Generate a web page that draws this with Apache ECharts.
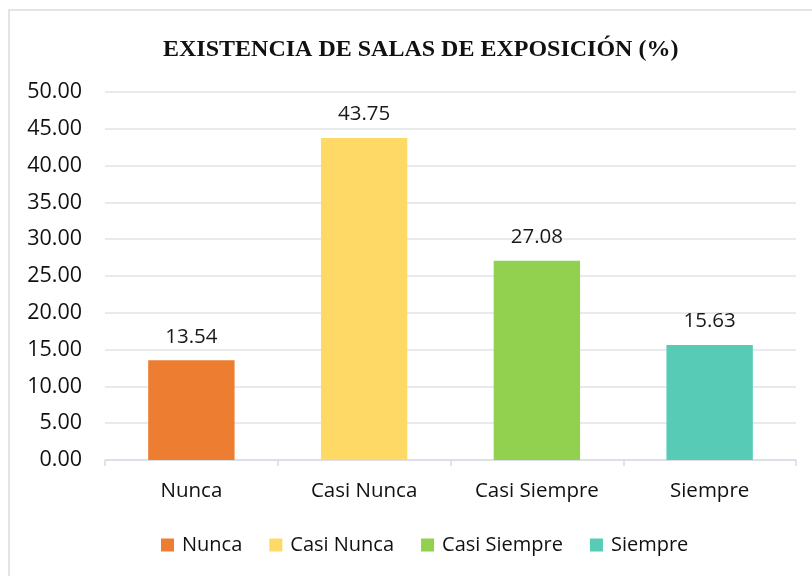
<!DOCTYPE html>
<html>
<head>
<meta charset="utf-8">
<script src="https://cdn.jsdelivr.net/npm/echarts@6/dist/echarts.min.js"></script>
<style>html,body{margin:0;padding:0;background:#fff}#c{width:812px;height:576px}</style>
</head>
<body>
<div id="c"></div>
<script>
const titleText = 'EXISTENCIA DE SALAS DE EXPOSICIÓN (%)';
const categories = ['Nunca', 'Casi Nunca', 'Casi Siempre', 'Siempre'];
const values = [13.54, 43.75, 27.08, 15.63];
const colors = ['#ED7D31', '#FFD966', '#92D050', '#57CBB5'];
const yMin = 0, yMax = 50, yStep = 5;

const font = 'Open Sans';
const chart = echarts.init(document.getElementById('c'));
const series = categories.map((name, i) => ({
  name: name,
  type: 'bar',
  stack: 'all',
  barWidth: '50%',
  itemStyle: { color: colors[i] },
  label: {
    show: true, position: 'top', distance: 13,
    formatter: p => p.value == null ? '' : Number(p.value).toFixed(2),
    fontFamily: font, fontSize: 20.5, color: '#1a1a1a'
  },
  data: categories.map((c, j) => j === i ? values[i] : null)
}));
chart.setOption({
  animation: false,
  graphic: [{ type: 'rect', shape: { x: 9, y: 10, width: 900, height: 700 },
    style: { fill: 'none', stroke: '#d9dce3', lineWidth: 1.5 }, z: -1 }],
  title: { text: titleText, left: 158, top: 33,
    textStyle: { fontFamily: 'Liberation Serif', fontWeight: 'bold', fontSize: 24, color: '#111' } },
  legend: { bottom: 16, left: 156, itemWidth: 13, itemHeight: 13, itemGap: 27,
    icon: 'rect', textStyle: { fontFamily: font, fontSize: 20, color: '#111', padding: [0, 0, 0, 3] },
    data: categories },
  grid: { left: 105, right: 16, top: 92, bottom: 116, containLabel: false },
  xAxis: { type: 'category', data: categories,
    axisLine: { lineStyle: { color: '#d9dce3', width: 1.5 } },
    axisTick: { show: true, alignWithLabel: false, length: 6, lineStyle: { color: '#d9dce3', width: 1.5 } },
    axisLabel: { fontFamily: font, fontSize: 20.5, color: '#111', margin: 21 } },
  yAxis: { type: 'value', min: yMin, max: yMax, interval: yStep,
    axisLine: { show: false }, axisTick: { show: false },
    splitLine: { lineStyle: { color: '#e0e3ea', width: 1.5 } },
    axisLabel: { fontFamily: font, fontSize: 21.5, color: '#111', margin: 23,
      formatter: v => v.toFixed(2) } },
  series: series
});
</script>
</body>
</html>
